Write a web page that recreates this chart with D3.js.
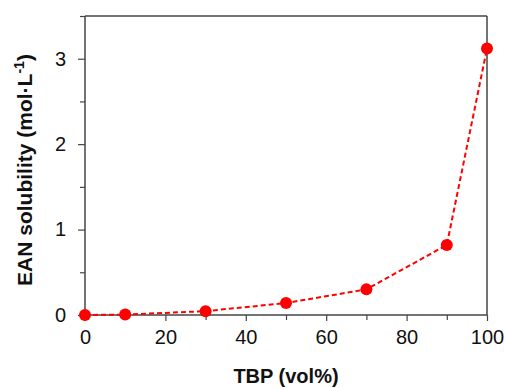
<!DOCTYPE html>
<html>
<head>
<meta charset="utf-8">
<script src="https://cdn.jsdelivr.net/npm/d3@7/dist/d3.min.js"></script>
<style>
  html, body { margin: 0; padding: 0; background: #fff; }
  svg { display: block; font-family: Arial, "Liberation Sans", sans-serif; }
</style>
</head>
<body>
<svg id="chart" width="506" height="388"></svg>
<script>
// TBP volume fraction and EAN solubility
const tbp = [0, 10, 30, 50, 70, 90, 100];
const solubility = [0, 0.005, 0.045, 0.14, 0.3, 0.82, 3.12];
const xTicks = [0, 20, 40, 60, 80, 100];
const xMinor = [10, 30, 50, 70, 90];
const yTicks = [0, 1, 2, 3];
const yMinor = [0.5, 1.5, 2.5, 3.5];

const svg = d3.select("#chart");
const m = { left: 85, right: 487, top: 16, bottom: 315 };
const axisColor = "#444";

const x = d3.scaleLinear().domain([0, 100]).range([m.left, m.right]);
const y = d3.scaleLinear().domain([0, 3.5]).range([m.bottom, m.top]);

// frame: top and right edges
svg.append("line").attr("x1", x(0)).attr("x2", x(100)).attr("y1", y(3.5)).attr("y2", y(3.5))
  .attr("stroke", axisColor).attr("stroke-width", 1.5);
svg.append("line").attr("x1", x(100)).attr("x2", x(100)).attr("y1", y(3.5)).attr("y2", y(0))
  .attr("stroke", axisColor).attr("stroke-width", 1.5);

// minor ticks
const gx = svg.append("g").attr("transform", `translate(0,${m.bottom})`);
gx.call(d3.axisBottom(x).tickValues(xMinor).tickSize(5).tickFormat(""));
const gy = svg.append("g").attr("transform", `translate(${m.left},0)`);
gy.call(d3.axisLeft(y).tickValues(yMinor).tickSize(5).tickFormat(""));

// major ticks with labels
const gx2 = svg.append("g").attr("transform", `translate(0,${m.bottom})`);
gx2.call(d3.axisBottom(x).tickValues(xTicks).tickSize(6).tickPadding(9).tickFormat(d3.format("d")));
const gy2 = svg.append("g").attr("transform", `translate(${m.left},0)`);
gy2.call(d3.axisLeft(y).tickValues(yTicks).tickSize(7).tickPadding(12).tickFormat(d3.format("d")));

[gx, gy, gx2, gy2].forEach(g => {
  g.selectAll("path").attr("stroke", axisColor).attr("stroke-width", 1.5);
  g.selectAll("line").attr("stroke", axisColor).attr("stroke-width", 1.2);
  g.selectAll("text").attr("fill", "#111").style("font-size", "20px")
    .style("font-family", "Arial, 'Liberation Sans', sans-serif");
});
gx.select("path").remove();
gy.select("path").remove();
gx2.selectAll("path").attr("d", `M${m.left},0H${m.right}`);
gy2.selectAll("path").attr("d", `M0,${m.bottom}V${m.top}`);

// axis titles
svg.append("text")
  .attr("x", 286).attr("y", 383)
  .attr("text-anchor", "middle")
  .style("font-size", "20px").style("font-weight", "bold").attr("fill", "#111")
  .text("TBP (vol%)");

const yt = svg.append("text")
  .attr("transform", `translate(32,170) rotate(-90)`)
  .attr("text-anchor", "middle")
  .style("font-size", "21px").style("font-weight", "bold").attr("fill", "#111");
yt.append("tspan").text("EAN solubility (mol·L");
yt.append("tspan").attr("dy", -8).style("font-size", "14px").text("-1");
yt.append("tspan").attr("dy", 8).text(")");

// data line and markers
const pts = tbp.map((t, i) => [t, solubility[i]]);
svg.append("path")
  .datum(pts)
  .attr("fill", "none")
  .attr("stroke", "#ff0000")
  .attr("stroke-width", 2)
  .attr("stroke-dasharray", "5,3")
  .attr("d", d3.line().x(d => x(d[0])).y(d => y(d[1])));

svg.selectAll("circle.pt")
  .data(pts)
  .join("circle")
  .attr("class", "pt")
  .attr("cx", d => x(d[0]))
  .attr("cy", d => y(d[1]))
  .attr("r", 6)
  .attr("fill", "#ff0000");
</script>
</body>
</html>
